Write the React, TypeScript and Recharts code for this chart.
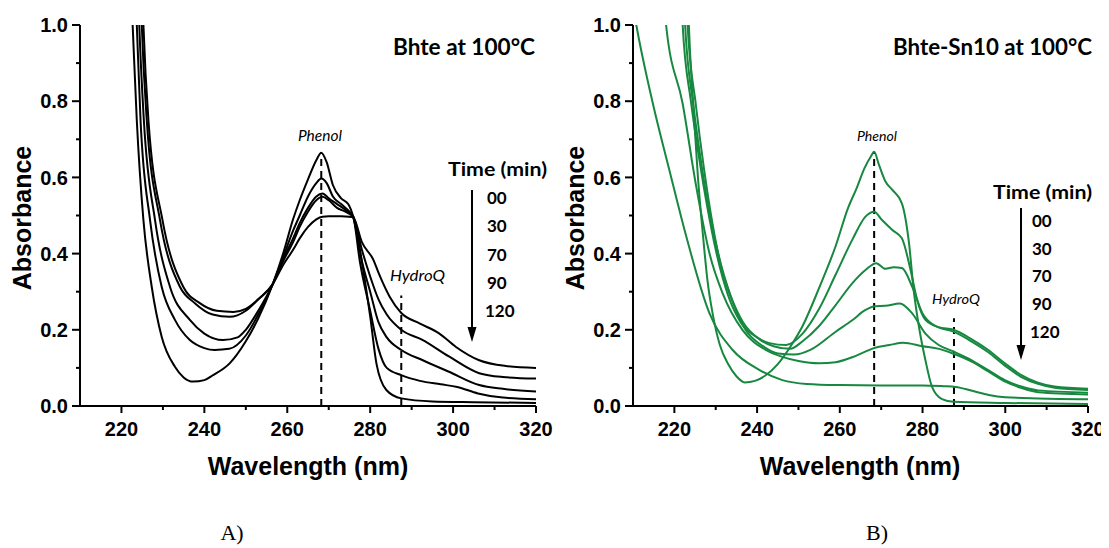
import React from 'react';
import { LineChart, Line, XAxis, YAxis, ReferenceLine } from 'recharts';

// ---------- axes ----------
const xTicks = [220, 230, 240, 250, 260, 270, 280, 290, 300, 310, 320];
const xMajor = [220, 240, 260, 280, 300, 320];
const yTicks = [0, 0.1, 0.2, 0.3, 0.4, 0.5, 0.6, 0.7, 0.8, 0.9, 1.0];
const yMajor = [0, 0.2, 0.4, 0.6, 0.8, 1.0];
const xDomain = [210, 320];
const yDomain = [0, 1];

// ---------- annotations ----------
const timeLabels = ['00', '30', '70', '90', '120'];
const titleA = 'Bhte at 100°C';
const titleB = 'Bhte-Sn10 at 100°C';
// [wavelength, top absorbance] of the dashed marker lines
const phenolMarkA = [268.2, 0.665];
const hydroMarkA = [287.5, 0.29];
const phenolMarkB = [268.3, 0.667];
const hydroMarkB = [287.6, 0.23];

// ---------- panel A: Bhte at 100 °C (wavelength, absorbance) ----------
const bhte00 = [[222.3,1.1],[222.7,1.0],[223.7,0.75],[225.3,0.488],[227.3,0.313],[229.7,0.182],[232.9,0.103],[235,0.075],[237.3,0.064],[240,0.068],[242.1,0.081],[246.1,0.112],[250,0.17],[253,0.23],[256.5,0.32],[259,0.40],[261.4,0.49],[263,0.54],[265,0.595],[267,0.645],[268.2,0.665],[269.5,0.64],[271,0.58],[273,0.545],[274.7,0.53],[275.9,0.497],[277.5,0.41],[280,0.235],[281.5,0.112],[283.9,0.042],[287.5,0.02],[295,0.012],[305,0.01],[320,0.008]];
const bhte30 = [[223.3,1.1],[223.7,1.0],[224.6,0.751],[226.9,0.488],[229.7,0.313],[232.9,0.226],[236.5,0.173],[240,0.152],[242.5,0.147],[246,0.15],[250,0.185],[253,0.24],[256.5,0.32],[259,0.39],[261.4,0.46],[263,0.50],[265,0.55],[267,0.585],[268.2,0.597],[269.5,0.585],[271,0.55],[273,0.53],[275,0.51],[275.9,0.497],[277.5,0.38],[280,0.25],[282,0.15],[284,0.1],[287.5,0.081],[292,0.066],[297,0.057],[301,0.05],[306,0.033],[312,0.022],[320,0.018]];
const bhte70 = [[224,1.1],[224.3,1.0],[225.4,0.751],[228.1,0.488],[231.7,0.313],[236.5,0.226],[240,0.19],[244.5,0.173],[248,0.18],[250,0.2],[253,0.25],[256.5,0.32],[259,0.385],[261.4,0.44],[263,0.48],[265,0.52],[267,0.55],[268.5,0.558],[270,0.545],[272,0.53],[274,0.515],[275.9,0.497],[278,0.38],[280,0.3],[282,0.22],[284,0.18],[287.5,0.147],[292.7,0.12],[299,0.09],[306.3,0.055],[312,0.045],[320,0.038]];
const bhte90 = [[224.6,1.1],[224.9,1.0],[226.1,0.751],[229.3,0.488],[234.1,0.313],[237.7,0.27],[242,0.24],[246.1,0.234],[250,0.25],[253,0.28],[256.5,0.32],[259,0.38],[261.4,0.43],[263,0.47],[265,0.51],[267,0.54],[268.5,0.549],[270,0.54],[272,0.52],[274,0.51],[275.9,0.497],[278,0.41],[280,0.34],[282,0.28],[284,0.24],[287.5,0.2],[292.7,0.173],[299,0.13],[306.3,0.086],[312,0.076],[320,0.072]];
const bhte120 = [[225,1.1],[225.3,1.0],[226.5,0.751],[229.9,0.488],[234.9,0.313],[238.9,0.27],[243,0.25],[247,0.247],[250,0.255],[253,0.28],[256.5,0.32],[259,0.37],[261.4,0.41],[263,0.44],[265,0.47],[267,0.49],[268.5,0.497],[270,0.498],[273,0.498],[275,0.497],[275.9,0.495],[278,0.43],[280.8,0.383],[282,0.35],[284.7,0.287],[287.5,0.244],[291.9,0.217],[296.7,0.19],[300.7,0.155],[306.3,0.12],[312.7,0.105],[320,0.10]];

// ---------- panel B: Bhte-Sn10 at 100 °C ----------
const sn00 = [[223.2,1.1],[223.5,1.0],[224.5,0.8],[225.7,0.6],[226.9,0.45],[228,0.33],[229.3,0.24],[231,0.16],[233,0.11],[235,0.078],[237,0.062],[239.5,0.066],[242,0.08],[245,0.11],[248,0.155],[251,0.21],[255,0.31],[259,0.42],[262,0.52],[264,0.57],[266,0.625],[267.5,0.655],[268.3,0.667],[269.4,0.635],[271,0.59],[272.7,0.567],[275,0.532],[276.7,0.43],[277.9,0.3],[279.1,0.21],[280.7,0.12],[282.3,0.05],[284.7,0.018],[287.5,0.011],[300,0.008],[320,0.005]];
const sn30 = [[221.7,1.1],[222,1.0],[224,0.8],[226,0.65],[228,0.52],[230,0.41],[233,0.29],[236,0.22],[240,0.18],[243,0.165],[247,0.16],[251,0.19],[255,0.255],[259,0.345],[263,0.436],[266.2,0.497],[268.3,0.51],[270.2,0.488],[272.7,0.462],[275,0.44],[277.1,0.357],[278.7,0.278],[280.7,0.226],[283.9,0.207],[287.5,0.2],[291.9,0.175],[295.9,0.147],[299.9,0.112],[303.9,0.081],[307.9,0.061],[311.9,0.051],[320,0.045]];
const sn70 = [[222.3,1.1],[222.6,1.0],[224.6,0.79],[226.6,0.63],[228.6,0.5],[230.6,0.4],[233.6,0.29],[236.6,0.22],[240.6,0.175],[244,0.157],[248,0.15],[251,0.17],[255,0.21],[259,0.265],[263,0.322],[266.2,0.357],[268.8,0.375],[271,0.36],[273,0.364],[275,0.362],[277.5,0.313],[280,0.243],[283.1,0.21],[287.5,0.195],[291.9,0.169],[295.9,0.141],[299.9,0.106],[303.9,0.076],[307.9,0.058],[311.9,0.048],[320,0.042]];
const sn90 = [[222.9,1.1],[223.2,1.0],[225.2,0.79],[227.2,0.62],[229.2,0.48],[231.2,0.37],[234.2,0.27],[237.2,0.2],[241,0.16],[245,0.138],[249,0.135],[253,0.148],[259,0.195],[263,0.225],[266.2,0.252],[268.5,0.262],[271,0.263],[274.5,0.269],[277.5,0.243],[280.7,0.19],[283.9,0.16],[287.5,0.143],[291.9,0.12],[295.9,0.094],[299.9,0.068],[303.9,0.051],[307.9,0.041],[320,0.035]];
const sn120 = [[217.6,1.1],[218,1.0],[222,0.794],[225.3,0.575],[228.5,0.4],[231.7,0.295],[236.5,0.199],[242.1,0.147],[246.1,0.129],[250,0.118],[255,0.112],[259,0.115],[263,0.128],[266,0.142],[268.5,0.153],[272,0.16],[275.3,0.166],[280,0.157],[284,0.15],[287.5,0.137],[292,0.116],[296,0.09],[300,0.064],[304,0.047],[308,0.036],[320,0.03]];
const snLate = [[210,1.05],[210.8,1.0],[214.8,0.794],[218.8,0.619],[222.9,0.444],[228.5,0.243],[234.1,0.147],[240.5,0.095],[246.1,0.068],[252,0.058],[260,0.055],[270,0.054],[280,0.054],[285,0.052],[288,0.05],[292,0.04],[296,0.029],[300,0.023],[308,0.02],[320,0.018]];

const seriesA = [bhte00, bhte30, bhte70, bhte90, bhte120];
const seriesB = [sn00, sn30, sn70, sn90, sn120, snLate];

const BLACK = '#000000';
const GREEN = '#17883f';
const AXIS_FONT = '"Liberation Sans", Arial, Helvetica, sans-serif';
const GILL_FONT = 'Lato, "Open Sans", sans-serif';
const SERIF_FONT = '"Liberation Serif", "Times New Roman", serif';

const toPts = (arr: number[][]) => arr.map(([x, y]) => ({ x, y }));
const near = (list: number[], v: number) => list.some((m) => Math.abs(m - v) < 1e-6);

function YTick(props: any) {
  const { x, y, payload } = props;
  const v = payload.value as number;
  const major = near(yMajor, v);
  return (
    <g>
      <line x1={x} x2={x - (major ? 8 : 4)} y1={y} y2={y} stroke={BLACK} strokeWidth={2} />
      {major && (
        <text x={x - 12} y={y} dy="0.36em" textAnchor="end" fontFamily={AXIS_FONT} fontWeight="bold" fontSize={20} fill={BLACK}>
          {v.toFixed(1)}
        </text>
      )}
    </g>
  );
}

function XTick(props: any) {
  const { x, y, payload } = props;
  const v = payload.value as number;
  const major = near(xMajor, v);
  return (
    <g>
      <line x1={x} x2={x} y1={y} y2={y + (major ? 7 : 4)} stroke={BLACK} strokeWidth={2} />
      {major && (
        <text x={x} y={y + 30} textAnchor="middle" fontFamily={AXIS_FONT} fontWeight="bold" fontSize={20} fill={BLACK}>
          {v}
        </text>
      )}
    </g>
  );
}

function Panel(props: {
  series: number[][][];
  color: string;
  phenol: number[];
  hydro: number[];
  style: React.CSSProperties;
  width: number;
  margin: { top: number; right: number; bottom: number; left: number };
}) {
  const { series, color, phenol, hydro, style, width, margin } = props;
  return (
    <div style={style}>
      <LineChart width={width} height={480} margin={margin}>
        <XAxis
          type="number"
          dataKey="x"
          domain={xDomain}
          ticks={xTicks}
          interval={0}
          allowDataOverflow
          height={40}
          tickSize={0}
          tickMargin={0}
          tickLine={false}
          axisLine={{ stroke: BLACK, strokeWidth: 2 }}
          tick={(p: any) => <XTick {...p} />}
        />
        <YAxis
          type="number"
          dataKey="y"
          domain={yDomain}
          ticks={yTicks}
          interval={0}
          allowDataOverflow
          width={70}
          tickSize={0}
          tickMargin={0}
          tickLine={false}
          axisLine={{ stroke: BLACK, strokeWidth: 2 }}
          tick={(p: any) => <YTick {...p} />}
        />
        <ReferenceLine
          segment={[{ x: phenol[0], y: 0 }, { x: phenol[0], y: phenol[1] }]}
          stroke={BLACK}
          strokeWidth={2}
          strokeDasharray="7 5"
          ifOverflow="visible"
        />
        <ReferenceLine
          segment={[{ x: hydro[0], y: 0 }, { x: hydro[0], y: hydro[1] }]}
          stroke={BLACK}
          strokeWidth={2}
          strokeDasharray="7 5"
          ifOverflow="visible"
        />
        {series.map((s, i) => (
          <Line
            key={i}
            data={toPts(s)}
            dataKey="y"
            type="monotone"
            stroke={color}
            strokeWidth={2}
            dot={false}
            activeDot={false}
            isAnimationActive={false}
          />
        ))}
      </LineChart>
    </div>
  );
}

function Arrow({ x, y1, y2 }: { x: number; y1: number; y2: number }) {
  return (
    <g>
      <line x1={x} x2={x} y1={y1} y2={y2 - 12} stroke={BLACK} strokeWidth={2} />
      <polygon points={`${x - 4.5},${y2 - 15} ${x + 4.5},${y2 - 15} ${x},${y2}`} fill={BLACK} />
    </g>
  );
}

export default function App() {
  return (
    <div style={{ position: 'relative', width: 1101, height: 540, overflow: 'hidden' }}>
      <Panel
        series={seriesA}
        color={BLACK}
        phenol={phenolMarkA}
        hydro={hydroMarkA}
        width={560}
        margin={{ top: 25, right: 24, bottom: 34, left: 10 }}
        style={{ position: 'absolute', left: -8, top: -8 }}
      />
      <Panel
        series={seriesB}
        color={GREEN}
        phenol={phenolMarkB}
        hydro={hydroMarkB}
        width={549}
        margin={{ top: 25, right: 21, bottom: 34, left: 3 }}
        style={{ position: 'absolute', left: 552, top: -8 }}
      />
      <svg
        width={1109}
        height={548}
        style={{ position: 'absolute', left: -8, top: -8, pointerEvents: 'none' }}
      >
        {/* axis titles */}
        <text transform="translate(31,218) rotate(-90)" textAnchor="middle" fontFamily={AXIS_FONT} fontWeight="bold" fontSize={25} fill={BLACK}>Absorbance</text>
        <text transform="translate(584,218) rotate(-90)" textAnchor="middle" fontFamily={AXIS_FONT} fontWeight="bold" fontSize={25} fill={BLACK}>Absorbance</text>
        <text x={308} y={475} textAnchor="middle" fontFamily={AXIS_FONT} fontWeight="bold" fontSize={25} fill={BLACK}>Wavelength (nm)</text>
        <text x={860} y={475} textAnchor="middle" fontFamily={AXIS_FONT} fontWeight="bold" fontSize={25} fill={BLACK}>Wavelength (nm)</text>

        {/* panel titles */}
        <text x={393} y={55} textLength={142} lengthAdjust="spacingAndGlyphs" fontFamily={GILL_FONT} fontWeight="bold" fontSize={22} fill={BLACK}>{titleA}</text>
        <text x={893} y={55} textLength={199} lengthAdjust="spacingAndGlyphs" fontFamily={GILL_FONT} fontWeight="bold" fontSize={22} fill={BLACK}>{titleB}</text>

        {/* peak labels */}
        <text x={298} y={141} textLength={44} lengthAdjust="spacingAndGlyphs" fontFamily={GILL_FONT} fontStyle="italic" fontSize={15} fill={BLACK}>Phenol</text>
        <text x={390} y={281} textLength={55} lengthAdjust="spacingAndGlyphs" fontFamily={GILL_FONT} fontStyle="italic" fontSize={16} fill={BLACK}>HydroQ</text>
        <text x={857} y={141} textLength={40} lengthAdjust="spacingAndGlyphs" fontFamily={GILL_FONT} fontStyle="italic" fontSize={14} fill={BLACK}>Phenol</text>
        <text x={932} y={304} textLength={48} lengthAdjust="spacingAndGlyphs" fontFamily={GILL_FONT} fontStyle="italic" fontSize={14} fill={BLACK}>HydroQ</text>

        {/* time legends */}
        <text x={448} y={176} textLength={99} lengthAdjust="spacingAndGlyphs" fontFamily={GILL_FONT} fontWeight="bold" fontSize={19} fill={BLACK}>Time (min)</text>
        {timeLabels.map((t, i) => (
          <text key={'a' + t} x={t.length > 2 ? 485 : 487} y={204 + i * 28.3} fontFamily={GILL_FONT} fontWeight="bold" fontSize={17} fill={BLACK}>{t}</text>
        ))}
        <Arrow x={472} y1={190} y2={342} />

        <text x={993} y={199} textLength={99} lengthAdjust="spacingAndGlyphs" fontFamily={GILL_FONT} fontWeight="bold" fontSize={19} fill={BLACK}>Time (min)</text>
        {timeLabels.map((t, i) => (
          <text key={'b' + t} x={t.length > 2 ? 1030 : 1032} y={227 + i * 27.7} fontFamily={GILL_FONT} fontWeight="bold" fontSize={17} fill={BLACK}>{t}</text>
        ))}
        <Arrow x={1021} y1={208} y2={360} />

        {/* panel letters */}
        <text x={232} y={532} dy="0.35em" textAnchor="middle" fontFamily={SERIF_FONT} fontSize={22} fill={BLACK}>A)</text>
        <text x={877} y={532} dy="0.35em" textAnchor="middle" fontFamily={SERIF_FONT} fontSize={22} fill={BLACK}>B)</text>
      </svg>
    </div>
  );
}
